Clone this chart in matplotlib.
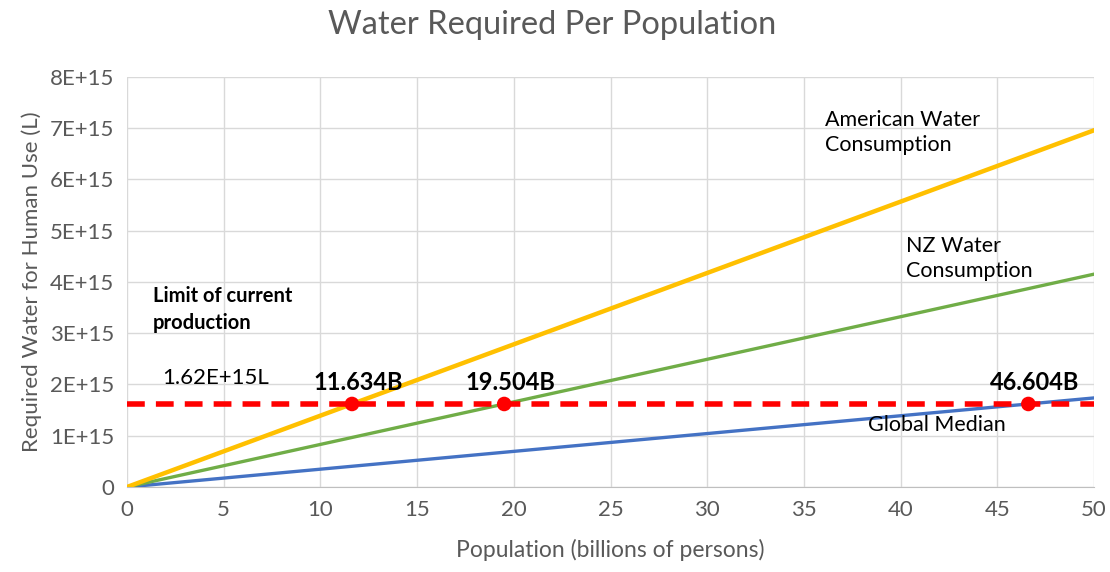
import matplotlib
matplotlib.use("Agg")
import matplotlib.pyplot as plt

plt.rcParams['font.family'] = ['Lato', 'DejaVu Sans']

# ── Data ─────────────────────────────────────────────
population = [0, 50]                 # billions of persons
american   = [0, 6.96e15]            # litres
nz         = [0, 4.153e15]
global_med = [0, 1.738e15]

limit = 1.62e15                      # current production (L)
crossings = [11.634, 19.504, 46.604] # population where each line meets the limit
crossing_labels = ['11.634B', '19.504B', '46.604B']

x_ticks = list(range(0, 51, 5))
y_ticks = [i * 1e15 for i in range(9)]
y_tick_labels = ['0'] + ['%dE+15' % i for i in range(1, 9)]

# ── Figure ───────────────────────────────────────────
fig = plt.figure(figsize=(11.1, 5.72), dpi=100)
ax = fig.add_axes([0.1144, 0.1486, 0.8712, 0.7168])

grey = '#595959'
ax.plot(population, global_med, color='#4472C4', lw=2.4, zorder=3)
ax.plot(population, nz, color='#70AD47', lw=2.4, zorder=3)
ax.plot(population, american, color='#FFC000', lw=3.2, zorder=3)

ax.axhline(limit, color='#FF0000', lw=4, ls=(0, (3.2, 2.0)), zorder=4)
ax.scatter(crossings, [limit] * len(crossings), s=110, color='#FF0000',
           zorder=5, edgecolors='none')
for xc, lab in zip(crossings, crossing_labels):
    ax.text(xc + 0.3, limit + 0.42e15, lab, ha='center', va='center',
            fontsize=17, fontweight='bold', color='black')

ax.text(1.35, 3.92e15, 'Limit of current\nproduction', fontsize=14.5,
        fontweight='bold', va='top', ha='left', linespacing=1.45)
ax.text(1.8, 2.13e15, '1.62E+15L', fontsize=16, va='center', ha='left')

ax.text(36.1, 7.35e15, 'American Water\nConsumption', fontsize=15.5,
        va='top', ha='left', linespacing=1.3)
ax.text(40.3, 4.9e15, 'NZ Water\nConsumption', fontsize=15.5,
        va='top', ha='left', linespacing=1.3)
ax.text(38.3, 1.2e15, 'Global Median', fontsize=15.5, va='center', ha='left')

# ── Axes styling ─────────────────────────────────────
ax.set_xlim(0, 50)
ax.set_ylim(0, 8e15)
ax.set_xticks(x_ticks)
ax.set_yticks(y_ticks)
ax.set_yticklabels(y_tick_labels)
ax.grid(True, color='#d9d9d9', lw=1)
ax.set_axisbelow(True)
for s in ['top', 'right', 'left']:
    ax.spines[s].set_visible(False)
ax.spines['bottom'].set_color('#bfbfbf')
ax.tick_params(length=0, labelsize=16, labelcolor=grey, pad=9)

ax.set_xlabel('Population (billions of persons)', fontsize=16.5,
              color=grey, labelpad=14)
ax.set_ylabel('Required Water for Human Use (L)', fontsize=16,
              color=grey, labelpad=6)
fig.suptitle('Water Required Per Population', fontsize=23.5, color=grey,
             x=0.497, y=0.982)

fig.savefig('out.png', dpi=100)
